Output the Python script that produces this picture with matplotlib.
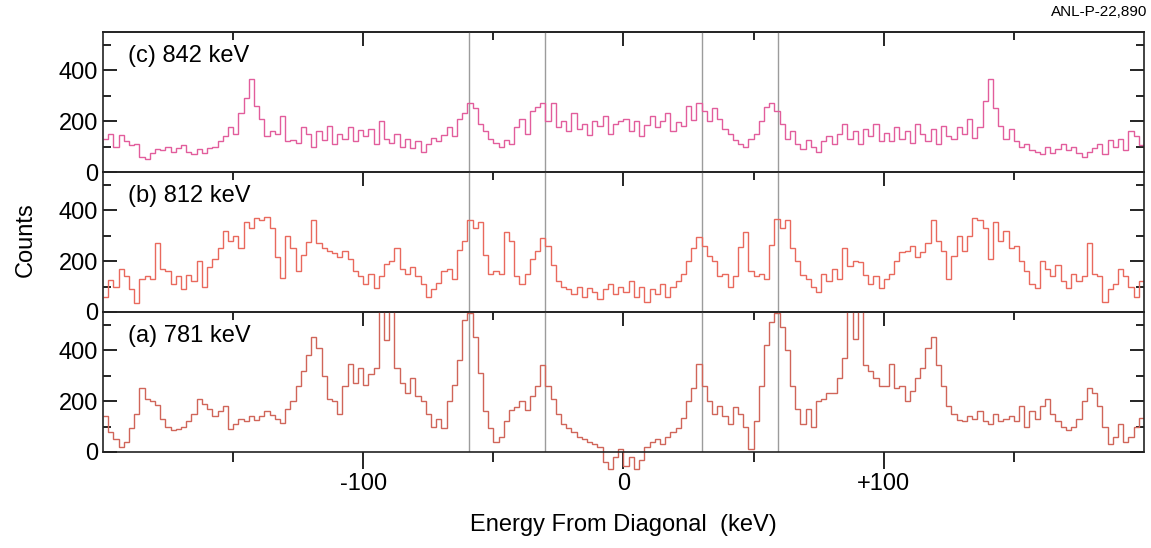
"""
Spectra perpendicular to the diagonal for three gates (781, 812, 842 keV).
Three stacked step histograms sharing the energy axis.
"""

import numpy as np
import matplotlib.pyplot as plt
from matplotlib.patches import Rectangle

# ═══════════════════════════════════════════════════════════
# DATA  (2 keV bins from -200 to +200 keV)
# ═══════════════════════════════════════════════════════════

E_MIN, E_MAX, BIN_KEV = -200, 200, 2

counts_c = [  # (c) 842 keV
    130, 150, 100, 145, 120,   105, 110, 60, 50, 75,
    90, 85, 100, 80, 95,       105, 80, 70, 90, 75,
    95, 100, 120, 140, 175,    150, 230, 290, 365, 260,
    210, 140, 160, 150, 220,   120, 125, 115, 175, 150,
    100, 160, 125, 180, 110,   150, 130, 175, 120, 165,
    140, 170, 110, 200, 130,   115, 150, 100, 130, 95,
    120, 80, 110, 135, 120,    145, 175, 140, 210, 230,
    270, 250, 190, 160, 130,   115, 100, 125, 110, 175,
    210, 150, 240, 255, 270,   200, 270, 175, 200, 160,
    230, 170, 190, 145, 200,   180, 220, 150, 190, 200,
    210, 160, 200, 140, 185,   220, 175, 200, 230, 160,
    195, 180, 260, 205, 270,   240, 200, 250, 210, 170,
    150, 125, 110, 100, 130,   150, 200, 255, 270, 240,
    190, 130, 160, 110, 90,    125, 100, 80, 120, 140,
    110, 150, 190, 130, 160,   110, 170, 140, 190, 120,
    155, 120, 175, 130, 160,   115, 190, 150, 120, 170,
    110, 180, 140, 130, 175,   150, 210, 135, 175, 280,
    365, 250, 180, 130, 170,   120, 100, 110, 85, 80,
    70, 100, 75, 90, 110,      85, 100, 75, 60, 80,
    95, 110, 70, 125, 100,     130, 85, 160, 140, 105,
]

counts_b = [  # (b) 812 keV
    60, 125, 100, 170, 140,    90, 35, 130, 140, 130,
    270, 170, 160, 110, 140,   90, 145, 120, 200, 100,
    175, 210, 250, 320, 280,   300, 250, 355, 330, 370,
    360, 375, 330, 215, 135,   300, 250, 160, 225, 275,
    360, 270, 250, 240, 230,   215, 240, 210, 160, 140,
    110, 150, 95, 140, 190,    200, 250, 170, 150, 175,
    140, 110, 60, 90, 115,     160, 170, 130, 245, 280,
    360, 330, 355, 225, 150,   160, 150, 315, 280, 140,
    110, 150, 210, 240, 290,   260, 185, 120, 100, 90,
    70, 100, 60, 95, 80,       50, 90, 110, 70, 100,
    80, 120, 60, 100, 40,      90, 70, 110, 60, 100,
    120, 150, 200, 250, 295,   260, 220, 200, 140, 150,
    100, 140, 255, 315, 160,   140, 150, 130, 265, 365,
    330, 360, 250, 200, 145,   130, 100, 80, 150, 120,
    170, 130, 250, 180, 200,   195, 145, 110, 140, 95,
    130, 150, 200, 235, 240,   260, 215, 235, 270, 360,
    280, 240, 130, 220, 300,   240, 300, 370, 360, 330,
    210, 355, 280, 320, 250,   260, 200, 160, 110, 95,
    200, 170, 140, 185, 120,   95, 150, 120, 140, 270,
    150, 140, 40, 90, 110,     170, 140, 100, 60, 120,
]

counts_a = [  # (a) 781 keV
    140, 80, 50, 20, 40,       95, 150, 250, 210, 200,
    185, 130, 100, 85, 90,     100, 120, 150, 210, 190,
    170, 140, 160, 180, 90,    110, 130, 120, 140, 125,
    140, 160, 145, 130, 115,   170, 200, 260, 320, 380,
    450, 410, 300, 210, 200,   150, 260, 345, 270, 330,
    265, 305, 330, 560, 440,   560, 330, 270, 230, 290,
    220, 200, 150, 100, 130,   95, 200, 265, 360, 520,
    545, 450, 310, 160, 95,    40, 60, 120, 165, 175,
    200, 165, 220, 260, 340,   260, 210, 150, 110, 95,
    80, 60, 50, 40, 30,        20, -40, -65, -20, 10,
    -55, -20, -65, -30, 20,    40, 50, 30, 60, 80,
    95, 135, 200, 250, 345,    260, 200, 150, 180, 140,
    110, 175, 150, 100, 10,    120, 260, 420, 510, 545,
    490, 400, 260, 170, 110,   170, 100, 200, 210, 230,
    230, 290, 370, 560, 445,   560, 340, 320, 290, 260,
    260, 345, 250, 260, 200,   240, 290, 330, 410, 450,
    340, 260, 180, 150, 125,   120, 140, 130, 160, 120,
    110, 150, 120, 130, 140,   120, 180, 100, 160, 130,
    180, 210, 150, 120, 100,   85, 100, 130, 200, 250,
    230, 180, 100, 30, 60,     110, 40, 60, 100, 135,
]

PANELS = [
    ("(c) 842 keV", counts_c, "#e25d9c"),
    ("(b) 812 keV", counts_b, "#e9695d"),
    ("(a) 781 keV", counts_a, "#d06559"),
]

GUIDE_KEV = [-59.5, -30, 30, 59.5]     # grey guide lines
X_MAJOR = [-100, 0, 100]
X_LABELS = ["-100", "0", "+100"]
X_MINOR = [-150, -50, 50, 150]
Y_MAJOR = [0, 200, 400]
Y_MINOR = [100, 300, 500]

# ═══════════════════════════════════════════════════════════
# PLOT
# ═══════════════════════════════════════════════════════════

plt.rcParams["font.family"] = ["Liberation Sans", "DejaVu Sans"]

edges = np.arange(E_MIN, E_MAX + BIN_KEV, BIN_KEV)

fig = plt.figure(figsize=(11.51, 5.48), dpi=100)

LEFT, WIDTH, HEIGHT = 0.0895, 0.9044, 0.2555
BOTTOMS = [0.6861, 0.4307, 0.1752]

axes = []
for (label, vals, color), bottom in zip(PANELS, BOTTOMS):
    ax = fig.add_axes([LEFT, bottom, WIDTH, HEIGHT])
    ax.set_facecolor("none")
    ax.set_xlim(E_MIN, E_MAX)
    ax.set_ylim(0, 550)

    for v in GUIDE_KEV:
        ax.axvline(v, color="#9c9c9c", lw=1.0, zorder=1)

    st = ax.stairs(vals, edges, baseline=None, color=color, lw=1.0, zorder=2)
    # clip only at the top of the panel, negative bins hang below the axis
    st.set_clip_path(Rectangle((0, -0.3), 1, 1.3, transform=ax.transAxes))

    ax.text(0.024, 0.83, label, transform=ax.transAxes,
            fontsize=17, ha="left", va="center")

    ax.set_xticks(X_MAJOR)
    ax.set_xticks(X_MINOR, minor=True)
    ax.set_yticks(Y_MAJOR)
    ax.set_yticks(Y_MINOR, minor=True)
    ax.tick_params(axis="y", which="both", direction="in",
                   left=True, right=True, labelsize=17, width=1.2)
    ax.tick_params(axis="y", which="major", length=10)
    ax.tick_params(axis="y", which="minor", length=6)
    ax.tick_params(axis="x", which="both", direction="out",
                   bottom=True, top=False, labelbottom=False, width=1.2)
    ax.tick_params(axis="x", which="major", length=10)
    ax.tick_params(axis="x", which="minor", length=6)
    for sp in ax.spines.values():
        sp.set_linewidth(1.2)
        sp.set_color("#222222")
    axes.append(ax)

ax_c, ax_b, ax_a = axes

# inward ticks along the very top
sec = ax_c.secondary_xaxis("top")
sec.set_xticks(X_MAJOR)
sec.set_xticks(X_MINOR, minor=True)
sec.tick_params(axis="x", which="both", direction="in", labeltop=False, width=1.2)
sec.tick_params(axis="x", which="major", length=10)
sec.tick_params(axis="x", which="minor", length=6)
sec.spines["top"].set_linewidth(1.2)
sec.spines["top"].set_color("#222222")

ax_a.set_xticklabels(X_LABELS)
ax_a.tick_params(axis="x", which="major", length=12)
ax_a.tick_params(axis="x", which="minor", length=7)
ax_a.tick_params(axis="x", labelbottom=True, labelsize=17, pad=3)
ax_a.set_xlabel("Energy From Diagonal  (keV)", fontsize=17, labelpad=14)

fig.text(0.022, 0.562, "Counts", rotation=90, fontsize=17,
         ha="center", va="center")
fig.text(0.997, 0.978, "ANL-P-22,890", fontsize=11, ha="right", va="center")

fig.savefig("out.png", dpi=100)
